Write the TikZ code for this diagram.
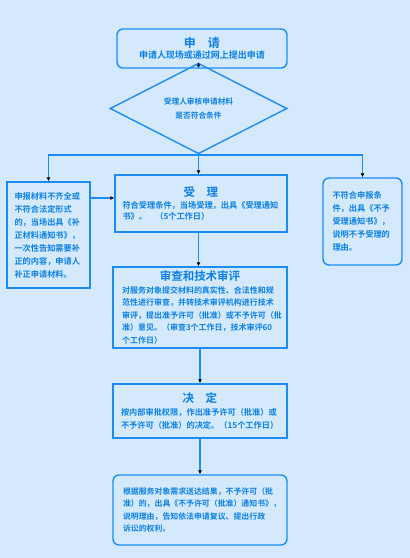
\documentclass[tikz,border=0pt]{standalone}
\usepackage{fontspec}
\setmainfont{Noto Sans CJK SC}[BoldFont={Noto Sans CJK SC Bold}]
\usetikzlibrary{arrows.meta, positioning, shapes.geometric}
\definecolor{mybg}{HTML}{D4E9FB}
\definecolor{myline}{HTML}{1C8DF5}
\definecolor{mytext}{HTML}{0B80E2}
\newcommand{\boxtitle}[1]{{\centering\fontsize{11.5}{16}\selectfont #1\par}}

\begin{document}
\begin{tikzpicture}[x=1pt, y=-1pt,
  box/.style={draw=myline, line width=1.4pt, rectangle, inner sep=0pt,
    text=mytext, font=\bfseries\fontsize{8.2}{13}\selectfont, align=left},
  rbox/.style={box, rounded corners=6pt},
  arr/.style={-{Latex[length=4pt, width=4pt, color=black]}, draw=myline, line width=1.4pt},
  link/.style={draw=myline, line width=1.4pt}
]
\useasboundingbox (0,0) rectangle (410,558);
\fill[mybg] (0,0) rectangle (410,558);

\node[rbox, minimum width=170pt, minimum height=39pt, align=center] (apply) at (202,48.5)
  {{\fontsize{12}{16}\selectfont 申\quad 请}\\[-2pt]{\fontsize{9}{12}\selectfont 申请人现场或通过网上提出申请}};
\node[box, diamond, minimum width=177pt, minimum height=57pt, align=center,
  font=\bfseries\fontsize{7.7}{14}\selectfont] (check) at (198.5,108.5)
  {受理人审核申请材料\\是否符合条件};
\coordinate (split) at (198,155);

\node[box, minimum width=83pt, minimum height=106pt, text width=68pt] (fix) at (48.5,235)
  {申报材料不齐全或\\不符合法定形式\\的，当场出具《补\\正材料通知书》，\\一次性告知需要补\\正的内容，申请人\\补正申请材料。};
\node[rbox, minimum width=79pt, minimum height=87pt, text width=60pt] (reject) at (362.5,221.5)
  {不符合申报条\\件，出具《不予\\受理通知书》，\\说明不予受理的\\理由。};
\node[box, minimum width=172pt, minimum height=57pt, text width=157pt,
  font=\bfseries\fontsize{8.2}{11.5}\selectfont] (accept) at (201,203.5)
  {\boxtitle{受\quad 理}符合受理条件，当场受理，出具《受理通知\\书》。\quad （5个工作日）};
\node[box, minimum width=174pt, minimum height=81pt, text width=156pt,
  font=\bfseries\fontsize{8}{12.5}\selectfont] (review) at (200,307.5)
  {\boxtitle{审查和技术审评}对服务对象提交材料的真实性、合法性和规\\范性进行审查，并转技术审评机构进行技术\\审评，提出准予许可（批准）或不予许可（批\\准）意见。（审查3个工作日，技术审评60\\个工作日）};
\node[box, minimum width=174pt, minimum height=54pt, text width=158pt] (decide) at (200,411)
  {\boxtitle{决\quad 定}按内部审批权限，作出准予许可（批准）或\\不予许可（批准）的决定。（15个工作日）};
\node[rbox, minimum width=174pt, minimum height=70pt, text width=154pt,
  font=\bfseries\fontsize{7.9}{12.5}\selectfont] (result) at (200,510)
  {根据服务对象需求送达结果，不予许可（批\\准）的，出具《不予许可（批准）通知书》，\\说明理由，告知依法申请复议、提出行政\\诉讼的权利。};

% flow
\draw[arr] (apply.south -| check.north) -- (check.north);
\draw[arr] (check.south) -- (check.south |- accept.north);
\draw[arr] (split) -| (fix.north);
\draw[arr] (split) -| (reject.north);
\coordinate (accin) at ([yshift=5.5pt]accept.west);
\draw[arr] (fix.east |- accin) -- (accin);
\draw[arr] (accept.south -| check.south) -- (check.south |- review.north);
\draw[arr] (review.south) -- (decide.north);
\draw[arr] (decide.south) -- (result.north);
\end{tikzpicture}
\end{document}
